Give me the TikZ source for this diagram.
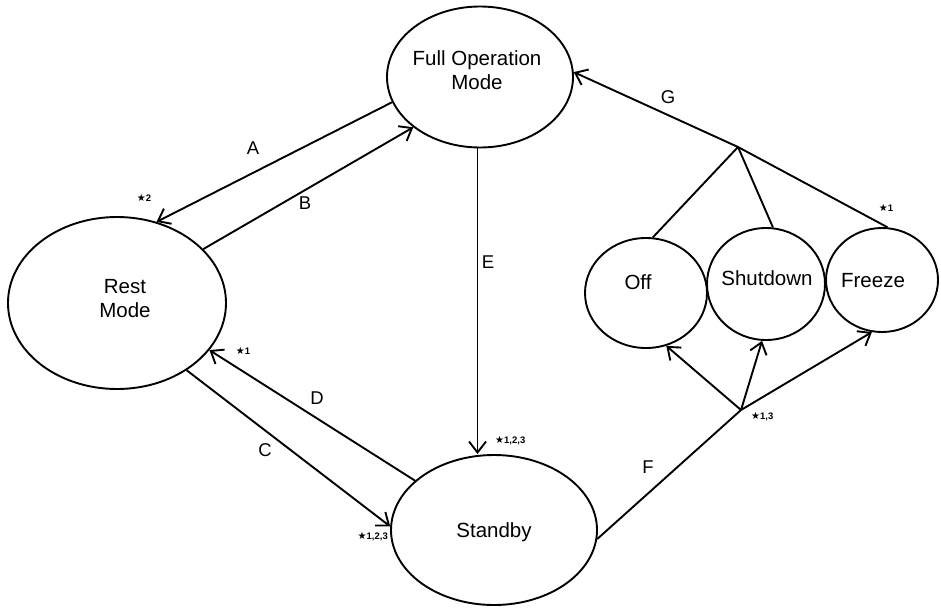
\documentclass[tikz,border=0pt]{standalone}
\usepackage{fontspec}
\setmainfont{Liberation Sans}
\newfontfamily\symfont{DejaVu Sans}
\usetikzlibrary{arrows.meta,shapes.geometric}
\tikzset{
  state/.style={draw, ellipse, line width=1.9pt, inner sep=0pt},
  txt/.style={font=\fontsize{20.5}{24}\selectfont, align=center, inner sep=0pt},
  lbl/.style={font=\fontsize{18.5}{20}\selectfont, inner sep=0pt},
  note/.style={font=\fontsize{9.5}{10}\selectfont\bfseries, inner sep=0pt},
  conn/.style={line width=1.9pt},
  arr/.style={conn, -{Straight Barb[length=11pt,width=17pt]}},
}
\newcommand{\st}{{\symfont\fontsize{10}{10}\selectfont ★}}
\begin{document}
\begin{tikzpicture}[x=1pt,y=-1pt]
\useasboundingbox (0,0) rectangle (941,608);
% states
\node[state, minimum width=186pt, minimum height=141pt] (full) at (480,77) {};
\node[state, minimum width=218pt, minimum height=172pt] (rest) at (117,303) {};
\node[state, minimum width=206pt, minimum height=150pt] (standby) at (494,530) {};
\node[state, minimum width=122pt, minimum height=110pt] (off) at (646,293) {};
\node[state, minimum width=118pt, minimum height=112pt] (shutdown) at (766,284) {};
\node[state, minimum width=112pt, minimum height=104pt] (freeze) at (882,280) {};
% texts
\node[txt] (tfull) at (477,70) {Full Operation\\Mode};
\node[txt] (trest) at (125,299) {Rest\\Mode};
\node[txt] (tstandby) at (494,532) {Standby};
\node[txt] (toff) at (638,282) {Off};
\node[txt] (tshutdown) at (767,278) {Shutdown};
\node[txt] (tfreeze) at (873,281) {Freeze};
% junctions
\coordinate (J1) at (738,147);
\coordinate (J2) at (741,410);
% connectors
\draw[arr] (full.196.6) -- (rest.64.6);
\draw[arr] (rest.32.9) -- (full.217.3);
\draw[arr] (full.268) -- (full.268 |- standby.north);
\draw[arr] (rest.316.2) -- (standby.178.3);
\draw[arr] (standby.148.7) -- (rest.333.2);
\draw[conn] (standby.355.6) -- (J2);
\draw[arr] (J2) -- (off.291.8);
\draw[arr] (J2) -- (shutdown.266.9);
\draw[arr] (J2) -- (freeze.259.8);
\draw[arr] (freeze.84.6) -- (J1) -- (full.3.1);
\draw[conn] (J1) -- (off.83.9);
\draw[conn] (J1) -- (shutdown.83.9);
% labels
\node[lbl] (la) at (253,148) {A};
\node[lbl] (lb) at (305,203) {B};
\node[lbl] (lc) at (265,450) {C};
\node[lbl] (ld) at (317,398) {D};
\node[lbl] (le) at (488,262) {E};
\node[lbl] (lf) at (648,467) {F};
\node[lbl] (lg) at (668,97) {G};
% notes
\node[note] (n1) at (144,198) {\st2};
\node[note] (n2) at (243,351) {\st1};
\node[note, anchor=east] (n3) at (388,537) {\st1,2,3};
\node[note, anchor=west] (n4) at (495,441) {\st1,2,3};
\node[note, anchor=west] (n5) at (751,417) {\st1,3};
\node[note] (n6) at (886,208) {\st1};
\end{tikzpicture}
\end{document}
